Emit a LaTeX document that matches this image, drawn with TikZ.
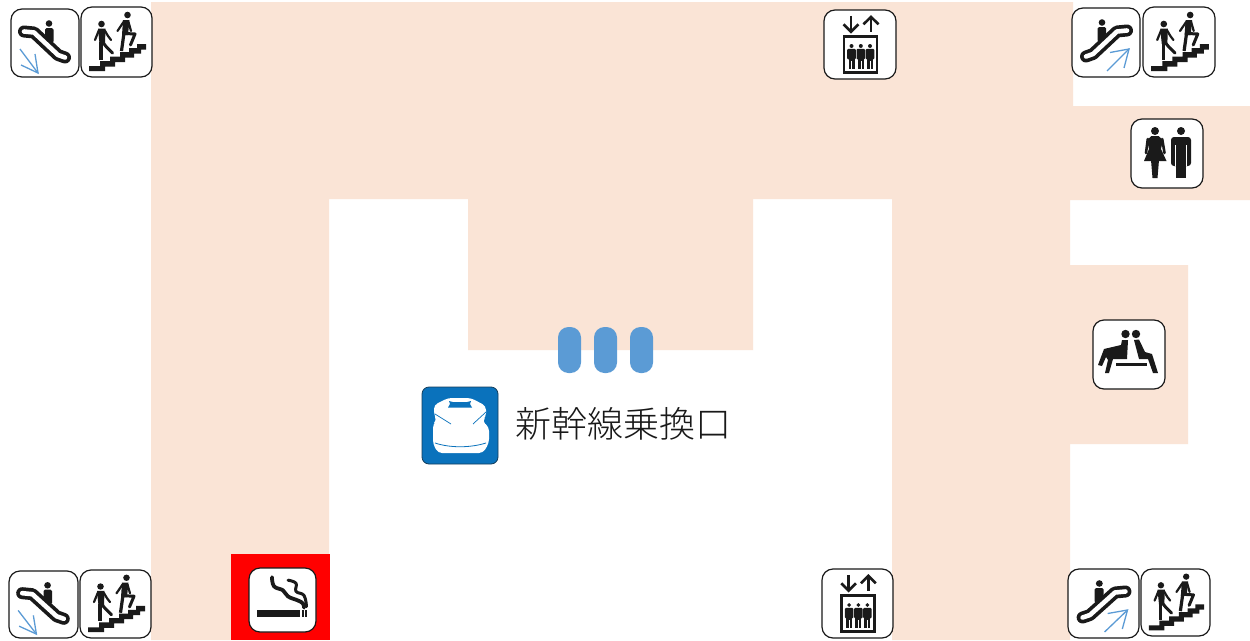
\documentclass[tikz,border=0pt]{standalone}
\usepackage{fontspec}
\newfontfamily\cjk{Noto Sans CJK JP Light}
\definecolor{floorc}{HTML}{FAE4D6}
\definecolor{pillc}{HTML}{5B9BD5}
\definecolor{trainc}{HTML}{0A72BC}
\definecolor{inkc}{HTML}{1A1A1A}
\tikzset{
  iconbox/.style={draw=inkc,fill=white,line width=1.2pt,rounded corners=11pt},
  limb/.style={draw=inkc,line cap=round,line join=round,line width=#1},
  limb/.default=3.4pt,
  bluearrow/.style={draw=pillc,line width=1.3pt},
  pill/.style={fill=pillc,draw=none,rounded corners=10.5pt}
}
\newcommand{\icon}[7]{%
  \pgfmathsetmacro{\sx}{(#3-#1)/#5}\pgfmathsetmacro{\sy}{(#4-#2)/#6}%
  \begin{scope}[shift={(#1,#2)},xscale=\sx,yscale=\sy]
    \draw[iconbox] (0,0) rectangle (#5,#6);
    #7
  \end{scope}}
\newcommand{\glyphband}{%
  \draw[limb=12pt] (13,22.5) -- (23,23.5) -- (47,46) -- (54,48.5);
  \draw[draw=white,line cap=round,line join=round,line width=4.6pt] (13,22.5) -- (23,23.5) -- (47,46) -- (54,48.5);
  \fill[inkc] (38,14.5) circle (3.3);
  \fill[inkc,rounded corners=1.5pt] (34,19) -- (42.5,19) -- (42.5,34) -- (34,27) -- cycle;}
\newcommand{\glyphEscDown}{\glyphband
  \draw[bluearrow] (9,40) -- (27,64);
  \draw[bluearrow] (10,56) -- (27,64) -- (24,45);}
\newcommand{\glyphEscUp}{%
  \begin{scope}[shift={(68,0)},xscale=-1]\glyphband\end{scope}
  \draw[bluearrow] (35,63) -- (57,41);
  \draw[bluearrow] (38,44.5) -- (57,41) -- (52,60);}
\newcommand{\glyphStairs}{%
  \fill[inkc] (8,64) -- (8,59) -- (19,59) -- (19,54) -- (29,54) -- (29,49.5) -- (39,49.5) -- (39,45) -- (48,45) -- (48,41) -- (56,41) -- (56,37) -- (65,37) -- (65,42.5) -- (60,42.5) -- (60,46.5) -- (53,46.5) -- (53,50.5) -- (44,50.5) -- (44,55) -- (34,55) -- (34,59.5) -- (24,59.5) -- (24,64) -- cycle;
  \fill[inkc] (20.5,17) circle (3.3);
  \fill[inkc] (17,21.5) -- (24.5,21.5) -- (24,37) -- (18.5,37) -- cycle;
  \draw[limb=3.2pt,line cap=butt] (20,35) -- (20,53);
  \draw[limb=3pt] (21.5,35) -- (25.5,40) -- (31.5,46);
  \draw[limb=2.2pt] (18,23) -- (14,33);
  \draw[limb=2.2pt] (23.5,23) -- (27,29) -- (30,33);
  \fill[inkc] (46.5,8) circle (3.3);
  \fill[inkc] (42,13) -- (48.5,13) -- (47,28) -- (41,28) -- cycle;
  \draw[limb=3.2pt,line cap=butt] (43,26) -- (40.5,44);
  \draw[limb=3pt] (44,26.5) -- (54,27) -- (49.5,38);
  \draw[limb=2.2pt] (42.5,15) -- (36.5,24);
  \draw[limb=2.2pt] (47.5,15) -- (50,24);}
\newcommand{\glyphperson}[1]{%
  \fill[inkc] (#1,36.5) circle (2);
  \fill[inkc,rounded corners=1pt] (#1-4.3,39.5) rectangle (#1+4.3,50);
  \fill[inkc] (#1-3,49) rectangle (#1+3,60);
  \draw[white,line width=.4pt] (#1,52) -- (#1,60);}
\newcommand{\glyphLift}{%
  \draw[draw=inkc,line width=2.6pt] (27,6) -- (27,21);
  \draw[draw=inkc,line width=2.6pt] (19.5,14.5) -- (27,22) -- (34.5,14.5);
  \draw[draw=inkc,line width=2.6pt] (47,22) -- (47,7);
  \draw[draw=inkc,line width=2.6pt] (39.5,14.5) -- (47,7) -- (54.5,14.5);
  \draw[draw=inkc,line width=2.8pt] (20,27) rectangle (53,63);
  \glyphperson{27.5}\glyphperson{36.8}\glyphperson{46}}
\newcommand{\glyphWC}{%
  \fill[inkc] (24,12) circle (4);
  \fill[inkc] (20.5,17) -- (27.5,17) -- (32,21) -- (30,30) -- (35.5,42) -- (13,42) -- (18,30) -- (16,21) -- cycle;
  \draw[limb=2.6pt] (16.8,20) -- (15,34);
  \draw[limb=2.6pt] (31.2,20) -- (33.5,34);
  \fill[inkc] (20,41) -- (28,41) -- (26.5,59) -- (21.5,59) -- cycle;
  \fill[inkc] (50,12) circle (4);
  \fill[inkc,rounded corners=3pt] (40,18) rectangle (60,47);
  \fill[white] (44,26) rectangle (44.9,47);
  \fill[white] (55.1,26) rectangle (56,47);
  \fill[inkc] (45,30) rectangle (49.6,59);
  \fill[inkc] (50.4,30) rectangle (55,59);}
\newcommand{\glyphBench}{%
  \fill[inkc] (32.5,14) circle (4.2);
  \fill[inkc] (43,14) circle (4.2);
  \fill[inkc] (23,42.5) rectangle (54,46);
  \fill[inkc] (41,20) -- (46,19.5) -- (52,32) -- (59,34) -- (65,53) -- (60,53) -- (55,39) -- (46,39) -- cycle;
  \fill[inkc] (29,20) -- (35,20) -- (34,39) -- (20,39) -- (16,53) -- (12,53) -- (15,40) -- (13,37) -- (9,46) -- (5,45) -- (11,29) -- (28,25) -- cycle;}
\newcommand{\glyphSmoke}{%
  \fill[inkc] (8,41.5) rectangle (51,48.5);
  \fill[inkc] (52.5,41.5) rectangle (55,48.5);
  \fill[inkc] (56,41.5) rectangle (58,48.5);
  \draw[limb=3.8pt] plot[smooth,tension=.7] coordinates {(23,9) (25,18) (34,22) (39,28) (49,32) (54,35) (55,39)};
  \draw[limb=3pt] plot[smooth,tension=.7] coordinates {(39,12) (47,15) (47,23) (55,27) (57.5,38)};}
\begin{document}
\begin{tikzpicture}[x=1pt,y=-1pt]
\useasboundingbox (0,0) rectangle (1250,640);
\fill[white] (0,0) rectangle (1250,640);
\fill[floorc] (151,2) -- (1073,2) -- (1073,106) -- (1250,106) -- (1250,200) -- (1070,200) -- (1070,265) -- (1188,265) -- (1188,444) -- (1070,444) -- (1070,640) -- (892,640) -- (892,199) -- (753,199) -- (753,350) -- (468,350) -- (468,199) -- (329,199) -- (329,640) -- (151,640) -- cycle;
\fill[red] (231,554) rectangle (330,640);
\fill[pill] (558,327) rectangle (581,373);
\fill[pill] (594,327) rectangle (617,373);
\fill[pill] (630,327) rectangle (653,373);
\icon{11}{9}{79}{77}{68}{68}{\glyphEscDown}
\icon{81}{7}{152}{77}{71}{70}{\glyphStairs}
\icon{824}{10}{896}{79}{72}{70}{\glyphLift}
\icon{1072}{8}{1140}{77}{68}{69}{\glyphEscUp}
\icon{1143}{7}{1215}{77}{71}{70}{\glyphStairs}
\icon{1131}{119}{1203}{188}{72}{69}{\glyphWC}
\icon{1093}{320}{1165}{389}{72}{69}{\glyphBench}
\icon{249}{568}{316}{632}{67}{63}{\glyphSmoke}
\icon{822}{569}{893}{638}{72}{70}{\glyphLift}
\icon{9}{571}{78}{638}{68}{68}{\glyphEscDown}
\icon{80}{570}{151}{638}{71}{70}{\glyphStairs}
\icon{1068}{569}{1139}{638}{68}{69}{\glyphEscUp}
\icon{1141}{569}{1210}{636}{71}{70}{\glyphStairs}
\begin{scope}[shift={(422,387)}]
  \fill[trainc,draw=inkc!60!trainc,line width=.8pt,rounded corners=7pt] (0,0) rectangle (76,77);
  \fill[white,rounded corners=4pt] (12,18) -- (26,11) -- (49,11) -- (64,19) -- (64,30) -- (60,34) -- (67,40) -- (67,56) -- (61,66) -- (16,66) -- (11,57) -- (11,37) -- (15,33) -- (12,28) -- cycle;
  \fill[trainc] (26,20.5) -- (28,17) -- (27,14) -- (31,15) -- (45,15) -- (49,14) -- (48,17) -- (50,20.5) -- cycle;
  \draw[trainc,line width=.7pt] (13,27) -- (29,37);
  \draw[trainc,line width=.7pt] (64,25) -- (51,37);
  \draw[trainc,line width=.8pt] (13,56) .. controls (28,61) and (48,61) .. (64,56);
\end{scope}
\node[anchor=center,inner sep=0pt,text=black!90] (gate) at (623,424) {\cjk\fontsize{36pt}{37pt}\selectfont 新幹線乗換口};
\end{tikzpicture}
\end{document}
